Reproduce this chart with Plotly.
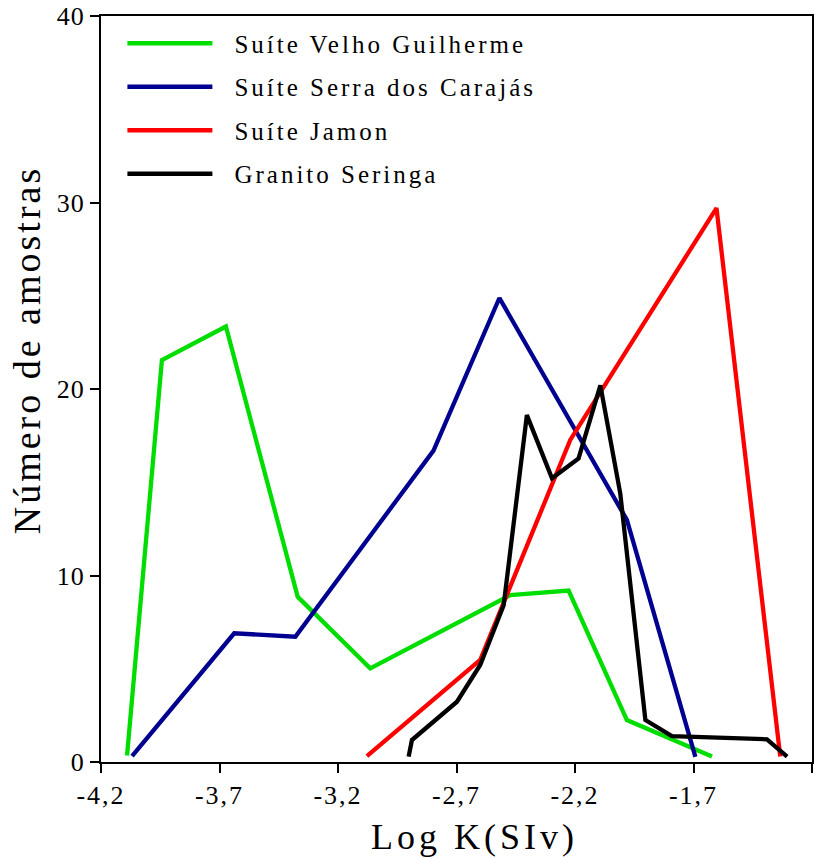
import plotly.graph_objects as go

# ---- data ----
vg_x = [-4.09, -3.943, -3.673, -3.370, -3.064, -2.473, -2.227, -1.981, -1.622]
vg_y = [0.35, 21.55, 23.35, 8.86, 5.02, 8.95, 9.19, 2.25, 0.3]

sc_x = [-4.069, -3.638, -3.380, -2.797, -2.519, -1.981, -1.692]
sc_y = [0.32, 6.90, 6.72, 16.7, 24.88, 12.98, 0.28]

jm_x = [-3.078, -2.600, -2.220, -1.603, -1.334]
jm_y = [0.32, 5.47, 17.27, 29.7, 0.29]

gs_x = [-2.902, -2.888, -2.698, -2.600, -2.501, -2.403, -2.297, -2.185,
        -2.093, -2.009, -1.903, -1.791, -1.390, -1.305]
gs_y = [0.29, 1.18, 3.23, 5.2, 8.4, 18.6, 15.21, 16.28,
        20.2, 14.4, 2.25, 1.39, 1.22, 0.29]

names = ["Suíte Velho Guilherme", "Suíte Serra dos Carajás", "Suíte Jamon", "Granito Seringa"]
colors = ["#00dd00", "#000090", "#ff0000", "#000000"]

x_tickvals = [-4.2, -3.7, -3.2, -2.7, -2.2, -1.7, -1.2]
x_ticktext = ["-4,2", "-3,7", "-3,2", "-2,7", "-2,2", "-1,7", "-1,2"]
y_tickvals = [0, 10, 20, 30, 40]

x_title = "Log K(SIv)"
y_title = "Número de amostras"

FONT = "Liberation Serif, Times New Roman, serif"

fig = go.Figure()
for i, (xs, ys, n, c) in enumerate(zip([vg_x, sc_x, jm_x, gs_x], [vg_y, sc_y, jm_y, gs_y], names, colors)):
    fig.add_trace(go.Scatter(x=xs, y=ys, mode="lines", name=n, legendgroup=f"g{i}",
                             line=dict(color=c, width=4.3)))

axis_common = dict(showline=True, linecolor="black", linewidth=2, mirror=True,
                   showgrid=False, zeroline=False, ticks="outside", ticklen=9,
                   tickwidth=2, tickcolor="black", automargin=False,
                   tickfont=dict(family=FONT, size=26, color="black"))

fig.update_xaxes(range=[-4.2, -1.2], tickvals=x_tickvals, ticktext=x_ticktext, **axis_common)
fig.update_yaxes(range=[0, 40], tickvals=y_tickvals, **axis_common)

fig.add_annotation(text=x_title, xref="paper", yref="paper", x=0.526, y=-0.100,
                   xanchor="center", yanchor="middle", showarrow=False,
                   font=dict(family=FONT, size=36, color="black"))
fig.add_annotation(text=y_title, xref="paper", yref="paper", x=-0.104, y=0.552,
                   xanchor="center", yanchor="middle", showarrow=False, textangle=-90,
                   font=dict(family=FONT, size=38, color="black"))

fig.update_layout(
    width=830, height=859,
    margin=dict(l=101, r=18, t=16, b=97),
    paper_bgcolor="white", plot_bgcolor="white",
    font=dict(family=FONT, color="black"),
    showlegend=True,
    legend=dict(x=0.0301, y=0.994, xanchor="left", yanchor="top",
                font=dict(family=FONT, size=25, color="black"),
                bgcolor="rgba(0,0,0,0)", itemwidth=85, tracegroupgap=8,
                traceorder="grouped"),
)

post = """
document.documentElement.style.margin = '0';
document.body.style.margin = '0';
document.body.style.padding = '0';
var gd = document.getElementById('{plot_id}');
function ls(){
  var set = function(els, v){ els.forEach(function(e){
      e.setAttribute('letter-spacing', v); e.style.letterSpacing = v; }); };
  set(gd.querySelectorAll('.legendtext'), '3px');
  set(gd.querySelectorAll('.xtick text'), '2px');
  set(gd.querySelectorAll('.ytick text'), '1px');
  var ann = gd.querySelectorAll('.annotation-text');
  if (ann.length > 0) set([ann[0]], '4px');
  if (ann.length > 1) set([ann[1]], '3px');
  gd.querySelectorAll('.legendtext').forEach(function(e){
    if (!e.getAttribute('data-shifted')) {
      var x = parseFloat(e.getAttribute('x') || '0');
      e.setAttribute('x', x + 17);
      e.querySelectorAll('tspan[x]').forEach(function(t){
        t.setAttribute('x', parseFloat(t.getAttribute('x')) + 17); });
      e.setAttribute('data-shifted', '1');
    }
  });
  gd.querySelectorAll('.legend, .legend [clip-path]').forEach(function(e){
    e.removeAttribute('clip-path'); });
}
ls();
gd.on('plotly_afterplot', ls);
"""

fig.write_html("out.html", post_script=post, config={"displayModeBar": False})
